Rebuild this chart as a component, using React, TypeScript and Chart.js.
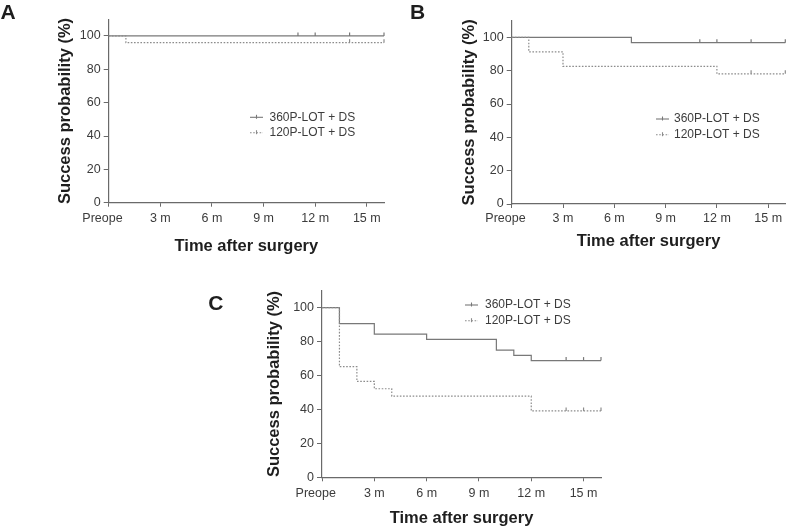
import React, { useEffect, useRef } from "react";
import { Chart, registerables } from "chart.js";

Chart.register(...registerables);

const FONT = "'Liberation Sans', Arial, Helvetica, sans-serif";
const AXIS_COLOR = "#6a6a6a";
const TICK_COLOR = "#3c3c3c";
const TITLE_COLOR = "#1e1e1e";
const SOLID_COLOR = "#787878";
const DOTTED_COLOR = "#8c8c8c";

// ---- shared axis data ----
const xTickValues = [0, 3, 6, 9, 12, 15];
const xTickLabels = ["Preope", "3 m", "6 m", "9 m", "12 m", "15 m"];
const yTickValues = [0, 20, 40, 60, 80, 100];
const xMax = 16;
const yMax = 110;
const xTitle = "Time after surgery";
const yTitle = "Success probability (%)";
const seriesLabels = ["360P-LOT + DS", "120P-LOT + DS"];
const panelLetters = ["A", "B", "C"];

// ---- Panel A ----
const aTime360 = [0, 11, 12, 14, 16];
const aSurv360 = [100, 100, 100, 100, 100];
const aCens360 = [0, 1, 1, 1, 1];
const aTime120 = [0, 1, 14, 16];
const aSurv120 = [100, 96, 96, 96];
const aCens120 = [0, 0, 1, 1];

// ---- Panel B ----
const bTime360 = [0, 7, 11, 12, 14, 16];
const bSurv360 = [100, 96.8, 96.8, 96.8, 96.8, 96.8];
const bCens360 = [0, 0, 1, 1, 1, 1];
const bTime120 = [0, 1, 3, 12, 14, 16];
const bSurv120 = [100, 91.3, 82.6, 78.1, 78.1, 78.1];
const bCens120 = [0, 0, 0, 0, 1, 1];

// ---- Panel C ----
const cTime360 = [0, 1, 3, 6, 10, 11, 12, 14, 15, 16];
const cSurv360 = [100, 90.6, 84.4, 81.3, 75, 71.9, 68.8, 68.8, 68.8, 68.8];
const cCens360 = [0, 0, 0, 0, 0, 0, 0, 1, 1, 1];
const cTime120 = [0, 1, 2, 3, 4, 12, 14, 15, 16];
const cSurv120 = [100, 65.2, 56.5, 52.2, 47.8, 39.1, 39.1, 39.1, 39.1];
const cCens120 = [0, 0, 0, 0, 0, 0, 1, 1, 1];

type Series = { time: number[]; surv: number[]; cens: number[] };

const panelSeries: Series[][] = [
  [
    { time: aTime360, surv: aSurv360, cens: aCens360 },
    { time: aTime120, surv: aSurv120, cens: aCens120 },
  ],
  [
    { time: bTime360, surv: bSurv360, cens: bCens360 },
    { time: bTime120, surv: bSurv120, cens: bCens120 },
  ],
  [
    { time: cTime360, surv: cSurv360, cens: cCens360 },
    { time: cTime120, surv: cSurv120, cens: cCens120 },
  ],
];

// ---- layout (positions / sizes) ----
const panelLayouts = [
  {
    left: 0, top: 0, w: 395, h: 258,
    padL: 50.1, padR: 11, padT: 19.3, yAxisW: 58.6, xAxisH: 55.3,
    xTickPad: 4, xTitlePadB: 1.4,
    letterX: 0.5, letterY: 18.5,
    legendX: 250, legendY: 117.3, legendGap: 15.4, legendTextGap: 19.5,
  },
  {
    left: 400, top: 0, w: 390, h: 258,
    padL: 54.3, padR: 1.3, padT: 20.7, yAxisW: 57.4, xAxisH: 54,
    xTickPad: 3.5, xTitlePadB: 6.4,
    letterX: 10, letterY: 18.5,
    legendX: 256, legendY: 119, legendGap: 15.7, legendTextGap: 18,
  },
  {
    left: 200, top: 260, w: 410, h: 268,
    padL: 59.1, padR: 9, padT: 30.7, yAxisW: 62.9, xAxisH: 50.7,
    xTickPad: 4.5, xTitlePadB: 0,
    letterX: 8.3, letterY: 50,
    legendX: 265, legendY: 45, legendGap: 15.7, legendTextGap: 20,
  },
];

const decorPlugin = {
  id: "decor",
  afterDraw(chart: any, _args: any, opts: any) {
    const ctx: CanvasRenderingContext2D = chart.ctx;
    ctx.save();
    ctx.fillStyle = TITLE_COLOR;
    ctx.font = `bold 21px ${FONT}`;
    ctx.textAlign = "left";
    ctx.textBaseline = "alphabetic";
    ctx.fillText(opts.letter, opts.letterX, opts.letterY);

    chart.data.datasets.forEach((ds: any, i: number) => {
      const y = opts.legendY + i * opts.legendGap;
      const x0 = opts.legendX;
      const len = 13;
      ctx.strokeStyle = ds.borderColor;
      ctx.lineWidth = 1.1;
      ctx.setLineDash(ds.borderDash || []);
      ctx.beginPath();
      ctx.moveTo(x0, y);
      ctx.lineTo(x0 + len, y);
      ctx.stroke();
      ctx.setLineDash([]);
      const cx = x0 + len / 2;
      ctx.beginPath();
      ctx.moveTo(cx, y - 2.5);
      ctx.lineTo(cx, y + 1.5);
      ctx.stroke();
      ctx.fillStyle = TICK_COLOR;
      ctx.font = `12px ${FONT}`;
      ctx.textBaseline = "middle";
      ctx.fillText(ds.label, x0 + opts.legendTextGap, y);
    });
    ctx.restore();
  },
};

function Panel({ index }: { index: number }) {
  const ref = useRef<HTMLCanvasElement>(null);
  const lay = panelLayouts[index];
  useEffect(() => {
    const series = panelSeries[index];
    const colors = [SOLID_COLOR, DOTTED_COLOR];
    const dashes = [[], [1.6, 1.6]];
    const datasets = series.map((s, si) => ({
      label: seriesLabels[si],
      data: s.time.map((t, i) => ({ x: t, y: s.surv[i] })),
      stepped: "before" as const,
      borderColor: colors[si],
      borderWidth: 1.2,
      borderDash: dashes[si],
      fill: false,
      order: si === 0 ? 1 : 0,
      clip: false as const,
      pointStyle: "dash" as const,
      pointRotation: -90,
      pointRadius: (c: any) => (s.cens[c.dataIndex] ? 3.5 : 0),
      pointHoverRadius: 0,
      pointBorderColor: colors[si],
      pointBackgroundColor: colors[si],
      pointBorderWidth: 1.2,
    }));

    const chart = new Chart(ref.current as HTMLCanvasElement, {
      type: "line",
      data: { datasets: datasets as any },
      plugins: [decorPlugin as any],
      options: {
        responsive: false,
        animation: false,
        devicePixelRatio: 1,
        layout: { padding: { left: lay.padL, right: lay.padR, top: lay.padT, bottom: 0 } },
        plugins: {
          legend: { display: false },
          tooltip: { enabled: false },
          decor: {
            letter: panelLetters[index],
            letterX: lay.letterX,
            letterY: lay.letterY,
            legendX: lay.legendX,
            legendY: lay.legendY,
            legendGap: lay.legendGap,
            legendTextGap: lay.legendTextGap,
          },
        } as any,
        scales: {
          x: {
            type: "linear",
            min: 0,
            max: xMax,
            afterBuildTicks: (s: any) => {
              s.ticks = xTickValues.map((v) => ({ value: v }));
            },
            afterFit: (s: any) => {
              s.height = lay.xAxisH;
            },
            ticks: {
              // first label sits slightly left of its tick in the original
              callback: (v: any) => {
                const k = xTickValues.indexOf(Number(v));
                return k === 0 ? xTickLabels[k] + "\u2003" : xTickLabels[k];
              },
              color: TICK_COLOR,
              font: { family: FONT, size: 12.5 },
              padding: lay.xTickPad,
              maxRotation: 0,
              minRotation: 0,
              autoSkip: false,
            },
            grid: {
              drawOnChartArea: false,
              drawTicks: true,
              tickLength: 4,
              color: AXIS_COLOR,
              lineWidth: 1,
            },
            border: { display: true, color: AXIS_COLOR, width: 1.2 },
            title: {
              display: true,
              text: xTitle,
              color: TITLE_COLOR,
              font: { family: FONT, size: 16.5, weight: "bold" },
              padding: { top: 0, bottom: lay.xTitlePadB },
            },
          },
          y: {
            type: "linear",
            min: 0,
            max: yMax,
            afterBuildTicks: (s: any) => {
              s.ticks = yTickValues.map((v) => ({ value: v }));
            },
            afterFit: (s: any) => {
              s.width = lay.yAxisW;
            },
            ticks: {
              color: TICK_COLOR,
              font: { family: FONT, size: 12.5 },
              padding: 3,
              autoSkip: false,
            },
            grid: {
              drawOnChartArea: false,
              drawTicks: true,
              tickLength: 5,
              color: AXIS_COLOR,
              lineWidth: 1,
            },
            border: { display: true, color: AXIS_COLOR, width: 1.2 },
            title: {
              display: true,
              text: yTitle,
              color: TITLE_COLOR,
              font: { family: FONT, size: 16.5, weight: "bold" },
              padding: { top: 5, bottom: 0 },
            },
          },
        },
      },
    });
    return () => chart.destroy();
  }, [index]);

  return (
    <canvas
      ref={ref}
      width={lay.w}
      height={lay.h}
      style={{ position: "absolute", left: lay.left, top: lay.top, width: lay.w, height: lay.h }}
    />
  );
}

export default function App() {
  return (
    <div
      style={{
        position: "fixed",
        left: 0,
        top: 0,
        width: 790,
        height: 528,
        background: "#ffffff",
        overflow: "hidden",
      }}
    >
      <Panel index={0} />
      <Panel index={1} />
      <Panel index={2} />
    </div>
  );
}
